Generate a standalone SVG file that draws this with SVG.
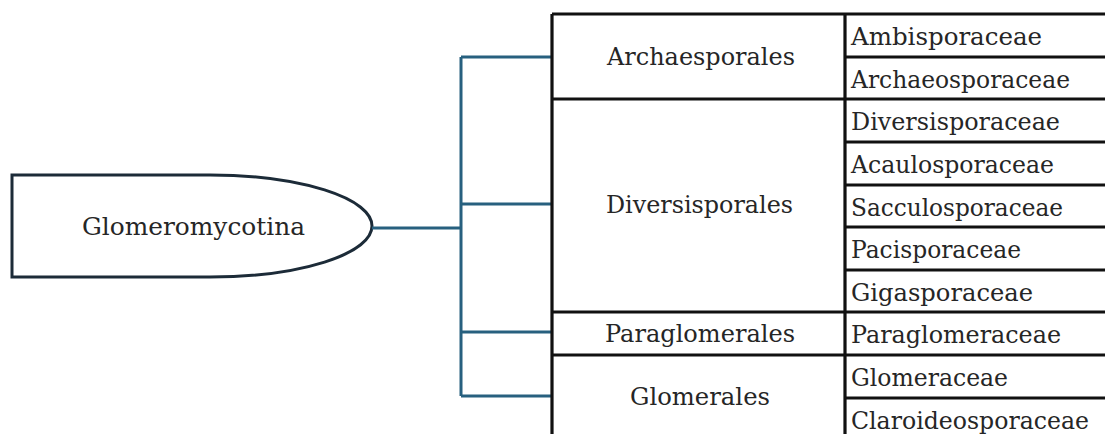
<svg xmlns="http://www.w3.org/2000/svg" width="1105" height="434" viewBox="0 0 1105 434">
<style>
.t{font-family:"DejaVu Serif","Liberation Serif",serif;font-size:23.5px;fill:#262626}
.c{text-anchor:middle}
.grid{stroke:#111;stroke-width:3.2;fill:none}
.conn{stroke:#27607f;stroke-width:3;fill:none}
</style>
<rect width="1105" height="434" fill="#fff"/>
<g id="root">
<path d="M12,175 H210 A162,51 0 0 1 372,226 A162,51 0 0 1 210,277 H12 Z" fill="#fff" stroke="#1c2b38" stroke-width="3"/>
<text class="t" x="82" y="235" style="font-size:25px" textLength="223" lengthAdjust="spacingAndGlyphs">Glomeromycotina</text>
</g>
<g id="connectors">
<path class="conn" d="M372,228 H461"/>
<path class="conn" d="M461,57 V396"/>
<path class="conn" d="M461,57 H552 M461,204 H552 M461,332 H552 M461,396 H552"/>
</g>
<g id="table" class="grid">
<path d="M552,14 H1105 M552,14 V434 M845,14 V434"/>
<path d="M845,57 H1105 M552,99 H1105 M845,142 H1105 M845,185 H1105 M845,227 H1105 M845,270 H1105 M552,312 H1105 M552,355 H1105 M845,398 H1105"/>
</g>
<g id="archaesporales"><text class="t" x="607" y="65" textLength="188" lengthAdjust="spacingAndGlyphs">Archaesporales</text></g>
<g id="diversisporales"><text class="t" x="606" y="213" textLength="187" lengthAdjust="spacingAndGlyphs">Diversisporales</text></g>
<g id="paraglomerales"><text class="t" x="605" y="342" textLength="190" lengthAdjust="spacingAndGlyphs">Paraglomerales</text></g>
<g id="glomerales"><text class="t" x="630" y="405" textLength="140" lengthAdjust="spacingAndGlyphs">Glomerales</text></g>
<g id="families">
<text class="t" x="851" y="45" textLength="191" lengthAdjust="spacingAndGlyphs">Ambisporaceae</text>
<text class="t" x="851" y="88" textLength="219" lengthAdjust="spacingAndGlyphs">Archaeosporaceae</text>
<text class="t" x="851" y="130" textLength="209" lengthAdjust="spacingAndGlyphs">Diversisporaceae</text>
<text class="t" x="851" y="173" textLength="203" lengthAdjust="spacingAndGlyphs">Acaulosporaceae</text>
<text class="t" x="851" y="216" textLength="212" lengthAdjust="spacingAndGlyphs">Sacculosporaceae</text>
<text class="t" x="851" y="258" textLength="170" lengthAdjust="spacingAndGlyphs">Pacisporaceae</text>
<text class="t" x="851" y="301" textLength="182" lengthAdjust="spacingAndGlyphs">Gigasporaceae</text>
<text class="t" x="851" y="343" textLength="210" lengthAdjust="spacingAndGlyphs">Paraglomeraceae</text>
<text class="t" x="851" y="386" textLength="157" lengthAdjust="spacingAndGlyphs">Glomeraceae</text>
<text class="t" x="851" y="429" textLength="238" lengthAdjust="spacingAndGlyphs">Claroideosporaceae</text>
</g>
</svg>
